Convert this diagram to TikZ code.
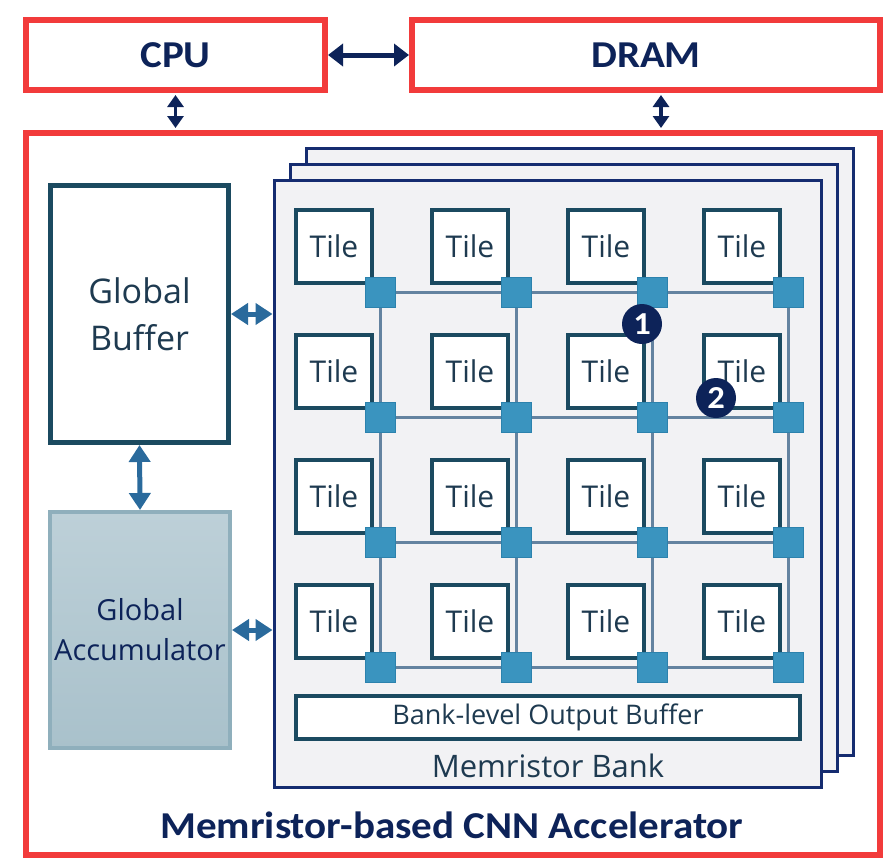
\documentclass[tikz,border=0pt]{standalone}
\usepackage{fontspec}
\setmainfont{Open Sans}
\newfontfamily\headfont[FakeStretch=1.08]{Carlito}
\usetikzlibrary{arrows.meta}

\definecolor{redline}{HTML}{F23B3B}
\definecolor{navy}{HTML}{0D2359}
\definecolor{tileline}{HTML}{1B4A60}
\definecolor{tiletext}{HTML}{1E3A50}
\definecolor{routerfill}{HTML}{3A94BF}
\definecolor{routerline}{HTML}{2C82AD}
\definecolor{wirecol}{HTML}{6483A0}
\definecolor{bankfill}{HTML}{F2F2F4}
\definecolor{bankline}{HTML}{152C70}
\definecolor{arrowblue}{HTML}{2A6A9C}
\definecolor{acctop}{HTML}{BDD0D8}
\definecolor{accbottom}{HTML}{A9C1CB}
\definecolor{accline}{HTML}{8FAFBC}

\begin{document}
\begin{tikzpicture}[x=1pt, y=-1pt,
    redbox/.style={draw=redline, line width=6pt, fill=white, inner sep=0pt},
    headtext/.style={font=\headfont\bfseries\fontsize{38}{46}\selectfont, text=navy},
    navyarrow/.style={navy, line width=5pt, {Triangle[length=15pt,width=22pt]}-{Triangle[length=15pt,width=22pt]}},
    thinarrow/.style={navy, line width=3.5pt, shorten >=2pt, shorten <=2pt, {Triangle[length=12pt,width=16pt]}-{Triangle[length=12pt,width=16pt]}},
    bluearrow/.style={arrowblue, line width=5pt, {Triangle[length=17pt,width=21pt]}-{Triangle[length=17pt,width=21pt]}},
    bankbox/.style={draw=bankline, line width=3pt, fill=bankfill, inner sep=0pt},
    tilebox/.style={draw=tileline, line width=4pt, fill=white, minimum width=76pt, minimum height=73pt,
      inner sep=0pt, text=tiletext, font=\fontsize{30}{36}\selectfont},
    routerbox/.style={draw=routerline, line width=1pt, fill=routerfill, minimum size=30pt, inner sep=0pt},
    wire/.style={draw=wirecol, line width=3pt},
    numdot/.style={circle, fill=navy, minimum size=40pt, inner sep=0pt, text=white,
      font=\headfont\bfseries\fontsize{32}{36}\selectfont},
    labeltext/.style={text=tiletext, inner sep=0pt}
  ]
  \useasboundingbox (0,0) rectangle (890,865);

  % Host side
  \node[redbox, minimum width=299pt, minimum height=70pt] (cpu) at (175.5,55) {};
  \node[headtext] at (cpu) {CPU};
  \node[redbox, minimum width=468pt, minimum height=70pt] (dram) at (646,55) {};
  \node[headtext] at (dram) {DRAM};
  \node[redbox, minimum width=854pt, minimum height=722pt] (acc) at (453,494) {};

  \draw[navyarrow] (cpu.east) -- (dram.west);
  \draw[thinarrow] (cpu.south) -- (cpu.south |- acc.north);
  \draw[thinarrow] ([xshift=15pt]dram.south) -- ([xshift=15pt]dram.south |- acc.north);

  % Stack of memristor banks
  \foreach \d in {32,16}
    \draw[bankbox] (274+\d,180-\d) rectangle (821+\d,787-\d);
  \node[bankbox, minimum width=547pt, minimum height=607pt] (bank) at (547.5,483.5) {};

  % Tiles with their routers
  \foreach \r/\y in {1/246,2/371,3/496,4/621}
    \foreach \c/\x in {1/334,2/470,3/606,4/742} {
      \node[tilebox] (t\r\c) at (\x,\y) {Tile};
      \node[routerbox] (r\r\c) at (\x+46,\y+46) {};
    }

  % Mesh links
  \foreach \i in {1,...,4}
    \foreach \j/\k in {1/2,2/3,3/4} {
      \draw[wire] (r\i\j) -- (r\i\k);
      \draw[wire] (r\j\i) -- (r\k\i);
    }

  \node[numdot] (n1) at (642,324) {1};
  \node[numdot] (n2) at (716,398) {2};

  \node[draw=tileline, line width=4pt, fill=white, minimum width=504pt, minimum height=43pt,
    labeltext, font=\fontsize{27}{30}\selectfont] (obuf) at (548,717) {Bank-level Output Buffer};
  \node[labeltext, font=\fontsize{31}{34}\selectfont] (banklabel) at (548,766) {Memristor Bank};

  % Global units
  \node[draw=tileline, line width=5pt, fill=white, minimum width=178pt, minimum height=257pt,
    align=center, labeltext, font=\fontsize{34}{47}\selectfont] (gbuf) at (139.5,314) {Global\\Buffer};
  \node[draw=accline, line width=4pt, top color=acctop, bottom color=accbottom, minimum width=180pt,
    minimum height=236pt, align=center, text=navy, inner sep=0pt, font=\fontsize{29}{40}\selectfont]
    (gacc) at (140,630) {Global\\Accumulator};

  \draw[bluearrow] (gbuf.east) -- (gbuf.east -| bank.west);
  \draw[bluearrow] (gacc.east) -- (gacc.east -| bank.west);
  \draw[bluearrow] (gbuf.south) -- (gacc.north);

  \node[headtext, anchor=base] (title) at (452,838) {Memristor-based CNN Accelerator};
\end{tikzpicture}
\end{document}
